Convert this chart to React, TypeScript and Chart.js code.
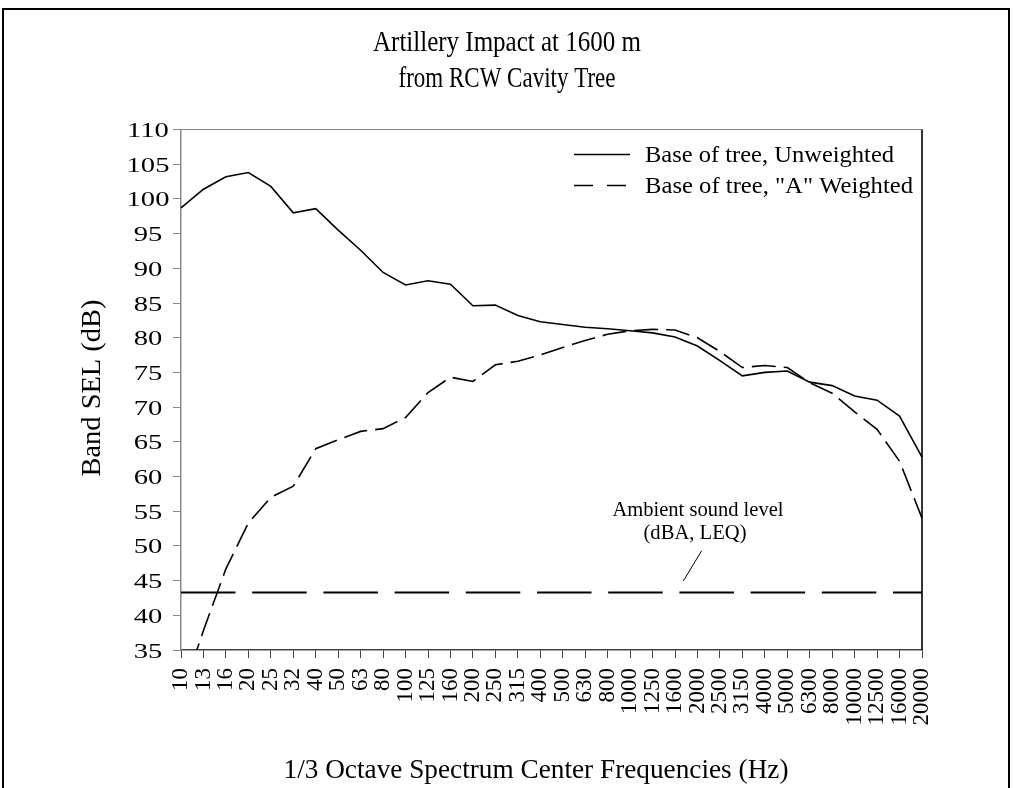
import React, { useEffect, useRef } from 'react';
import { Chart, registerables } from 'chart.js';

Chart.register(...registerables);

// ---------- data ----------
const titleLines = ['Artillery Impact at 1600 m', 'from RCW Cavity Tree'];
const yAxisTitle = 'Band SEL (dB)';
const xAxisTitle = '1/3 Octave Spectrum Center Frequencies (Hz)';
const seriesNames = ['Base of tree, Unweighted', 'Base of tree, "A" Weighted'];
const annotationLines = ['Ambient sound level', '(dBA, LEQ)'];

const freqLabels = [
  '10', '13', '16', '20', '25', '32', '40', '50', '63', '80', '100', '125',
  '160', '200', '250', '315', '400', '500', '630', '800', '1000', '1250',
  '1600', '2000', '2500', '3150', '4000', '5000', '6300', '8000', '10000',
  '12500', '16000', '20000',
];

const unweighted = [
  98.7, 101.4, 103.2, 103.8, 101.8, 98.0, 98.6, 95.5, 92.6, 89.4, 87.6, 88.2,
  87.7, 84.6, 84.7, 83.2, 82.3, 81.9, 81.5, 81.3, 81.0, 80.7,
  80.1, 78.8, 76.7, 74.5, 75.0, 75.2, 73.6, 73.1, 71.6,
  71.0, 68.7, 62.8,
];

const aWeighted = [
  28.3, 37.8, 46.7, 53.3, 57.0, 58.6, 64.0, 65.3, 66.5, 66.9, 68.5, 72.1,
  74.3, 73.7, 76.1, 76.6, 77.5, 78.6, 79.6, 80.5, 81.0, 81.2,
  81.1, 80.0, 78.0, 75.7, 76.0, 75.7, 73.5, 72.0, 69.3,
  66.8, 62.2, 54.0,
];

const ambientLevel = 43.3;

const yMin = 35;
const yMax = 110;
const yStep = 5;

// ---------- drawing helpers ----------
const FONT = '"Liberation Serif", "Times New Roman", serif';

function drawText(
  ctx: CanvasRenderingContext2D,
  text: string,
  x: number,
  y: number,
  size: number,
  opts: { width?: number; sx?: number; align?: CanvasTextAlign; rotate?: boolean } = {}
) {
  ctx.save();
  ctx.font = `${size}px ${FONT}`;
  const w = ctx.measureText(text).width;
  const sx = opts.width ? opts.width / w : opts.sx ?? 1;
  ctx.translate(x, y);
  if (opts.rotate) ctx.rotate(-Math.PI / 2);
  ctx.scale(sx, 1);
  ctx.textAlign = opts.align ?? 'center';
  ctx.textBaseline = 'alphabetic';
  ctx.fillStyle = '#000';
  ctx.fillText(text, 0, 0);
  ctx.restore();
}

const decorPlugin = {
  id: 'decor',
  beforeDraw(chart: any) {
    const ctx = chart.ctx as CanvasRenderingContext2D;
    ctx.save();
    ctx.fillStyle = '#fff';
    ctx.fillRect(0, 0, chart.width, chart.height);
    ctx.restore();
  },
  afterDraw(chart: any) {
    const ctx = chart.ctx as CanvasRenderingContext2D;
    const a = chart.chartArea;

    // outer frame (open at the bottom)
    ctx.save();
    ctx.strokeStyle = '#000';
    ctx.lineWidth = 2;
    ctx.beginPath();
    ctx.moveTo(3, 800);
    ctx.lineTo(3, 9);
    ctx.lineTo(1009, 9);
    ctx.lineTo(1009, 800);
    ctx.stroke();

    // plot area top (gray) and right (black) edges
    ctx.lineWidth = 1.2;
    ctx.strokeStyle = '#888';
    ctx.beginPath();
    ctx.moveTo(a.left, a.top);
    ctx.lineTo(a.right, a.top);
    ctx.stroke();
    ctx.strokeStyle = '#000';
    ctx.lineWidth = 1.6;
    ctx.beginPath();
    ctx.moveTo(a.right, a.top);
    ctx.lineTo(a.right, a.bottom);
    ctx.stroke();
    ctx.restore();

    // y tick labels (wide serif digits, centred in the label column)
    const ys = chart.scales.y;
    ys.ticks.forEach((t: any) => {
      const py = ys.getPixelForValue(t.value);
      drawText(ctx, String(t.value), 148, py + 7.5, 22, { sx: 1.3, align: 'center' });
    });

    // titles
    drawText(ctx, titleLines[0], 507, 51, 29, { width: 268 });
    drawText(ctx, titleLines[1], 507, 87, 29, { width: 217 });
    drawText(ctx, yAxisTitle, 100, 388, 28, { width: 177, rotate: true });
    drawText(ctx, xAxisTitle, 536, 778, 28, { width: 505 });

    // legend
    ctx.save();
    ctx.strokeStyle = '#000';
    ctx.lineWidth = 1.6;
    ctx.beginPath();
    ctx.moveTo(574, 154.5);
    ctx.lineTo(630, 154.5);
    ctx.stroke();
    ctx.setLineDash([19, 14]);
    ctx.beginPath();
    ctx.moveTo(574, 185.5);
    ctx.lineTo(630, 185.5);
    ctx.stroke();
    ctx.restore();
    drawText(ctx, seriesNames[0], 645, 162, 23, { width: 249, align: 'left' });
    drawText(ctx, seriesNames[1], 645, 193, 23, { width: 268, align: 'left' });

    // ambient annotation
    drawText(ctx, annotationLines[0], 698, 515.5, 20, { width: 171 });
    drawText(ctx, annotationLines[1], 695, 538.5, 20, { width: 103 });
    ctx.save();
    ctx.strokeStyle = '#000';
    ctx.lineWidth = 1;
    ctx.beginPath();
    ctx.moveTo(683.3, 581);
    ctx.lineTo(701.7, 550.7);
    ctx.stroke();
    ctx.restore();
  },
};

export default function App() {
  const canvasRef = useRef<HTMLCanvasElement | null>(null);

  useEffect(() => {
    const canvas = canvasRef.current;
    if (!canvas) return;
    const chart = new Chart(canvas, {
      type: 'line',
      data: {
        labels: freqLabels,
        datasets: [
          {
            label: seriesNames[0],
            data: unweighted,
            borderColor: '#000',
            backgroundColor: '#000',
            borderWidth: 1.6,
            pointRadius: 0,
            tension: 0,
            fill: false,
          },
          {
            label: seriesNames[1],
            data: aWeighted,
            borderColor: '#000',
            backgroundColor: '#000',
            borderWidth: 1.6,
            borderDash: [24, 8],
            pointRadius: 0,
            tension: 0,
            fill: false,
          },
          {
            label: annotationLines[0],
            data: freqLabels.map(() => ambientLevel),
            borderColor: '#000',
            backgroundColor: '#000',
            borderWidth: 2,
            borderDash: [54.5, 16.7],
            pointRadius: 0,
            tension: 0,
            fill: false,
          },
        ],
      },
      options: {
        animation: false,
        responsive: false,
        maintainAspectRatio: false,
        devicePixelRatio: 1,
        layout: { padding: { left: 0, top: 129.5, right: 91, bottom: 0 } },
        plugins: {
          legend: { display: false },
          title: { display: false },
          tooltip: { enabled: false },
        },
        scales: {
          x: {
            type: 'category',
            offset: false,
            grid: {
              drawOnChartArea: false,
              drawTicks: true,
              tickLength: 8,
              color: '#444',
              lineWidth: 1,
            },
            border: { display: true, color: '#444', width: 1.5 },
            ticks: {
              autoSkip: false,
              minRotation: 90,
              maxRotation: 90,
              color: '#000',
              padding: 10,
              font: { family: FONT, size: 23 },
            },
            afterFit: (s: any) => {
              s.height = 138;
            },
          },
          y: {
            min: yMin,
            max: yMax,
            grid: {
              drawOnChartArea: false,
              drawTicks: true,
              tickLength: 8,
              color: '#888',
              lineWidth: 1,
            },
            border: { display: true, color: '#888', width: 1.5 },
            ticks: {
              stepSize: yStep,
              display: false,
            },
            afterFit: (s: any) => {
              s.width = 181;
            },
          },
        },
      },
      plugins: [decorPlugin],
    } as any);
    return () => chart.destroy();
  }, []);

  return (
    <div style={{ position: 'fixed', left: 0, top: 0, width: 1013, height: 788, background: '#fff' }}>
      <canvas ref={canvasRef} width={1013} height={788} style={{ display: 'block' }} />
    </div>
  );
}
